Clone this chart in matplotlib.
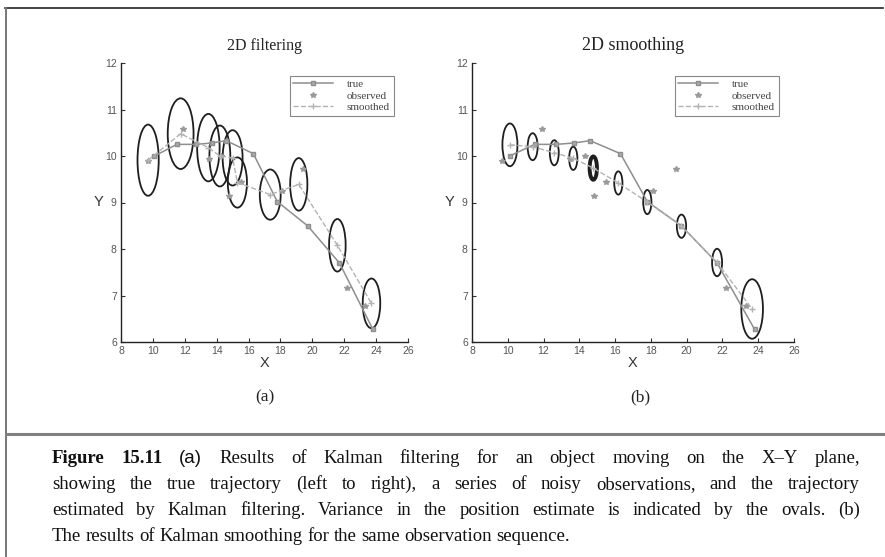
import matplotlib
matplotlib.use("Agg")
import matplotlib.pyplot as plt
from matplotlib.patches import Ellipse
from matplotlib.lines import Line2D

# true trajectory (same in both panels)
true_x = [10.1, 11.5, 12.7, 13.7, 14.6, 16.3, 17.8, 19.7, 21.7, 23.8]
true_y = [10.0, 10.25, 10.25, 10.28, 10.33, 10.05, 9.02, 8.50, 7.70, 6.27]
# noisy observations
obs_x = [9.7, 11.9, 13.5, 14.3, 15.5, 14.8, 18.1, 19.4, 22.2, 23.3]
obs_y = [9.9, 10.57, 9.93, 10.0, 9.45, 9.13, 9.25, 9.72, 7.17, 6.77]
# Kalman filter estimates + oval sizes
filt_x = [9.7, 11.74, 13.48, 14.2, 15.0, 15.3, 17.36, 19.15, 21.57, 23.71]
filt_y = [9.91, 10.48, 10.18, 10.0, 9.96, 9.43, 9.17, 9.39, 8.08, 6.83]
filt_w = [1.33, 1.62, 1.41, 1.31, 1.25, 1.2, 1.31, 1.08, 1.04, 1.1]
filt_h = [1.53, 1.52, 1.45, 1.31, 1.19, 1.08, 1.08, 1.13, 1.13, 1.07]
# Kalman smoother estimates + oval sizes
smooth_x = [10.12, 11.39, 12.6, 13.66, 14.78, 16.18, 17.8, 19.71, 21.7, 23.66]
smooth_y = [10.24, 10.2, 10.07, 9.95, 9.74, 9.42, 9.01, 8.49, 7.71, 6.71]
smooth_w = [0.84, 0.56, 0.5, 0.46, 0.41, 0.46, 0.46, 0.52, 0.56, 1.21]
smooth_h = [0.92, 0.58, 0.54, 0.5, 0.5, 0.5, 0.52, 0.5, 0.59, 1.28]

ticks_x = [8, 10, 12, 14, 16, 18, 20, 22, 24, 26]
ticks_y = [6, 7, 8, 9, 10, 11, 12]
legend_labels = ["true", "observed", "smoothed"]

caption_lines = [
    "Figure 15.11 (a) Results of Kalman filtering for an object moving on the X\u2013Y plane,",
    "showing the true trajectory (left to right), a series of noisy observations, and the trajectory",
    "estimated by Kalman filtering. Variance in the position estimate is indicated by the ovals. (b)",
    "The results of Kalman smoothing for the same observation sequence.",
]

W, H = 885, 557
fig = plt.figure(figsize=(W/100, H/100), dpi=100)
fig.patch.set_facecolor("white")

serif = "Liberation Serif"
sans = "Liberation Sans"


def panel(left_px, right_px, est_x, est_y, est_w, est_h, title, tsize, thick=None):
    ax = fig.add_axes([left_px/W, 1-342/H, (right_px-left_px)/W, (342-63)/H])
    ax.plot(true_x, true_y, "-", color="#8e8e8e", lw=1.1, marker="s", ms=2.5,
            mfc="#aaaaaa", mec="#8e8e8e", label=legend_labels[0])
    ax.plot(obs_x, obs_y, "*", color="#9a9a9a", ms=4, ls="none", label=legend_labels[1])
    ax.plot(est_x, est_y, "--", color="#b3b3b3", lw=1.0, marker="+", ms=4, label=legend_labels[2])
    for i in range(len(est_x)):
        lw = 2.8 if i == thick else 1.3
        ax.add_patch(Ellipse((est_x[i], est_y[i]), est_w[i], est_h[i], fill=False,
                             ec="#1e1e1e", lw=lw))
    ax.set_xlim(8, 26)
    ax.set_ylim(6, 12)
    ax.set_xticks(ticks_x)
    ax.set_yticks(ticks_y)
    for s in ["top", "right"]:
        ax.spines[s].set_visible(False)
    for s in ["left", "bottom"]:
        ax.spines[s].set_color("#222222")
        ax.spines[s].set_linewidth(1.0)
    ax.tick_params(direction="in", length=3, labelsize=7.5, labelcolor="#555555",
                   color="#333333", pad=3)
    for lab in ax.get_xticklabels() + ax.get_yticklabels():
        lab.set_family(sans)
    ax.set_xlabel("X", fontsize=10.5, family=sans, color="#333333", labelpad=0)
    ax.set_ylabel("Y", fontsize=10.5, family=sans, color="#333333", rotation=0,
                  labelpad=5, va="center")
    ax.set_title(title, fontsize=tsize, family=serif, color="#222222", pad=9)
    leg = ax.legend(loc="upper right", bbox_to_anchor=(0.97, 0.975),
                    prop={"family": serif, "size": 8}, handlelength=3.6,
                    labelspacing=0.15, borderpad=0.35, handletextpad=1.2,
                    fancybox=False, framealpha=1)
    leg.get_frame().set_edgecolor("#888888")
    leg.get_frame().set_linewidth(0.8)
    for t in leg.get_texts():
        t.set_color("#444444")
    return ax


ax1 = panel(121, 408, filt_x, filt_y, filt_w, filt_h, "2D filtering", 11.5)
ax2 = panel(472, 794, smooth_x, smooth_y, smooth_w, smooth_h, "2D smoothing", 13, thick=4)

fig.text(265/W, 1-397/H, "(a)", fontsize=12.5, family=serif, ha="center", va="center", color="#222222")
fig.text(640/W, 1-397/H, "(b)", fontsize=12.5, family=serif, ha="center", va="center", color="#222222")

# frame lines of the scanned page
fig.add_artist(Line2D([5/W, 883/W], [1-8/H, 1-8/H], transform=fig.transFigure, color="#222222", lw=1.2))
fig.add_artist(Line2D([6/W, 6/W], [0, 1-8/H], transform=fig.transFigure, color="#777777", lw=1.4))
fig.add_artist(Line2D([6/W, 1], [1-434/H, 1-434/H], transform=fig.transFigure, color="#808080", lw=2.2))

# caption, justified word by word
fig.canvas.draw()
rend = fig.canvas.get_renderer()
x0, x1 = 52, 860
for i, line in enumerate(caption_lines):
    y = 1 - (463 + 26*i)/H
    words = line.split(" ")
    texts = []
    for j, w in enumerate(words):
        bold = i == 0 and j < 2
        fam = sans if w == "(a)" else serif
        t = fig.text(0, y, w, fontsize=13.5, family=fam, va="baseline",
                     fontweight="bold" if bold else "normal", color="#111111")
        texts.append(t)
    widths = [t.get_window_extent(rend).width for t in texts]
    if i < len(caption_lines) - 1:
        gap = (x1 - x0 - sum(widths)) / (len(words) - 1)
    else:
        gap = 4.5
    x = x0
    for t, wd in zip(texts, widths):
        t.set_x(x/W)
        x += wd + gap

fig.savefig("out.png", dpi=100, facecolor="white")
